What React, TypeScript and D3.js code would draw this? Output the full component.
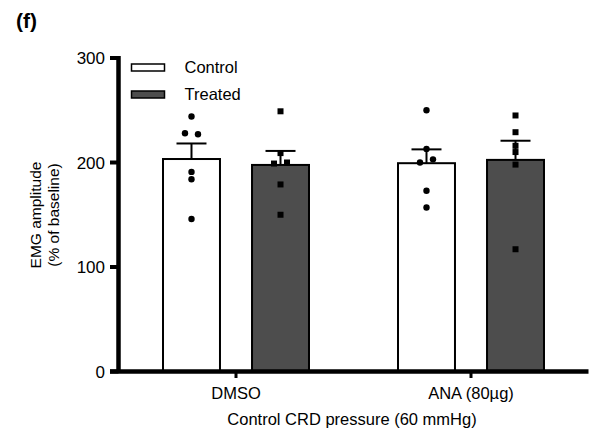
import * as d3 from 'd3';
import React from 'react';

// categories on the x axis and the two series
const groups = ['DMSO', 'ANA (80µg)'];
const series = ['Control', 'Treated'];

// individual animals, % of baseline
const dmsoControl = [244, 228, 227, 191, 184, 146];
const dmsoTreated = [249, 209, 199, 200, 179, 150];
const anaControl = [250, 213, 200, 203, 173, 157];
const anaTreated = [245, 229, 216, 210, 198, 117];

const yTicks = [0, 100, 200, 300];

const points = [
  [dmsoControl, dmsoTreated],
  [anaControl, anaTreated],
];

const fills = { Control: '#ffffff', Treated: '#4d4d4d' };

const font = '"Liberation Sans", Arial, sans-serif';

const App = () => {
  const width = 595;
  const height = 432;

  // plot frame
  const x0 = 118.5;
  const x1 = 588.5;
  const y = d3.scaleLinear([0, 300], [371.5, 58]);

  // outer band for the groups, inner band for control/treated
  const xg = d3.scaleBand(groups, [x0, x1]).padding(0);
  const xs = d3
    .scaleBand(series, [0, xg.bandwidth()])
    .paddingInner(0.36)
    .paddingOuter(0.5);
  const bw = xs.bandwidth();

  // mean +/- sem straight from the points
  const stats = points.map((g) =>
    g.map((vals) => {
      const m = d3.mean(vals);
      const sem = d3.deviation(vals) / Math.sqrt(vals.length);
      return { m, sem };
    })
  );

  // spread points that sit almost on top of each other
  const jitter = (vals) => {
    const off = vals.map(() => 0);
    for (let i = 0; i < vals.length; i++) {
      for (let j = i + 1; j < vals.length; j++) {
        if (off[i] === 0 && off[j] === 0 && Math.abs(vals[i] - vals[j]) < 5) {
          off[i] = -6.5;
          off[j] = 6.5;
        }
      }
    }
    return off;
  };

  return (
    <svg width={width} height={height} style={{ display: 'block', position: 'absolute', left: 0, top: 0 }}>
      <rect width={width} height={height} fill="#fff" />
      <text x={16} y={28} fontFamily={font} fontWeight="bold" fontSize={21}>
        (f)
      </text>

      {/* bars, error bars, points */}
      {groups.map((g, gi) =>
        series.map((s, si) => {
          const left = xg(g) + xs(s);
          const cx = left + bw / 2;
          const { m, sem } = stats[gi][si];
          const vals = points[gi][si];
          const off = jitter(vals);
          return (
            <g key={g + s}>
              <rect
                x={left}
                y={y(m)}
                width={bw}
                height={y(0) - y(m)}
                fill={fills[s]}
                stroke="#000"
                strokeWidth={2}
              />
              <line x1={cx} x2={cx} y1={y(m)} y2={y(m + sem)} stroke="#000" strokeWidth={2} />
              <line x1={cx - 15} x2={cx + 15} y1={y(m + sem)} y2={y(m + sem)} stroke="#000" strokeWidth={2} />
              {vals.map((v, i) =>
                s === 'Control' ? (
                  <circle key={i} cx={cx + off[i]} cy={y(v)} r={3.2} fill="#000" />
                ) : (
                  <rect key={i} x={cx + off[i] - 3} y={y(v) - 3} width={6} height={6} fill="#000" />
                )
              )}
            </g>
          );
        })
      )}

      {/* y axis */}
      <line x1={x0} x2={x0} y1={y(300) - 2} y2={y(0)} stroke="#000" strokeWidth={4.5} />
      {yTicks.map((t) => (
        <g key={t}>
          <line x1={110} x2={x0} y1={y(t)} y2={y(t)} stroke="#000" strokeWidth={4} />
          <text
            x={105}
            y={y(t)}
            dy="0.36em"
            textAnchor="end"
            fontFamily={font}
            fontSize={17}
          >
            {t}
          </text>
        </g>
      ))}

      {/* x axis */}
      <line x1={110} x2={x1} y1={y(0)} y2={y(0)} stroke="#000" strokeWidth={4.5} />
      {groups.map((g) => {
        const cx = xg(g) + xg.bandwidth() / 2;
        return (
          <g key={g}>
            <line x1={cx} x2={cx} y1={y(0)} y2={378} stroke="#000" strokeWidth={3} />
            <text x={cx} y={399} textAnchor="middle" fontFamily={font} fontSize={16.5}>
              {g}
            </text>
          </g>
        );
      })}
      <text x={352} y={425} textAnchor="middle" fontFamily={font} fontSize={16.5}>
        Control CRD pressure (60 mmHg)
      </text>

      {/* y title */}
      <g transform="translate(41,215) rotate(-90)" fontFamily={font} fontSize={15.5} textAnchor="middle">
        <text x={0} y={0}>EMG amplitude</text>
        <text x={0} y={17.5}>(% of baseline)</text>
      </g>

      {/* legend */}
      {series.map((s, i) => (
        <g key={s} transform={`translate(131.5,${64 + i * 27})`}>
          <rect width={33} height={7} fill={fills[s]} stroke="#000" strokeWidth={1.5} />
          <text x={53} y={3.5} dy="0.36em" fontFamily={font} fontSize={16.5}>
            {s}
          </text>
        </g>
      ))}
    </svg>
  );
};

export default App;
